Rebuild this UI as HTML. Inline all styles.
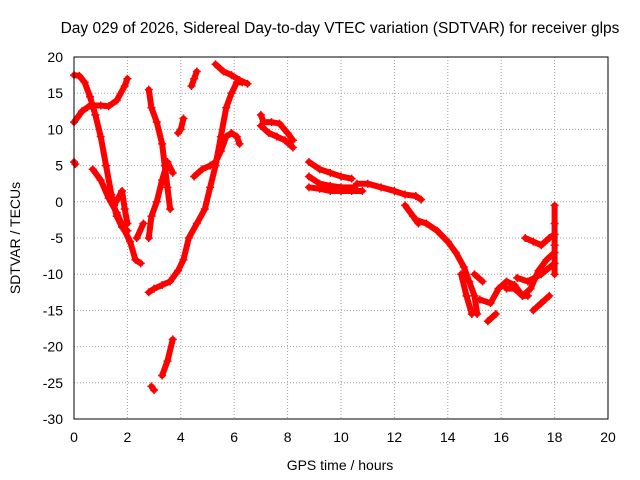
<!DOCTYPE html>
<html><head><meta charset="utf-8"><style>
body{margin:0;background:#fff}
svg{display:block;font-family:"Liberation Sans",sans-serif}
</style></head><body>
<svg id="chart" width="640" height="480">
<rect width="640" height="480" fill="#fff"/>
<text x="340" y="33" font-size="15.5" text-anchor="middle">Day 029 of 2026, Sidereal Day-to-day VTEC variation (SDTVAR) for receiver glps</text>
<text x="340" y="470" font-size="14" text-anchor="middle">GPS time / hours</text>
<text transform="translate(20,238) rotate(-90)" font-size="14" text-anchor="middle">SDTVAR / TECUs</text>
<g id="grid"></g><g id="marks"></g>
<rect x="74" y="57" width="534" height="362" fill="none" stroke="#000" stroke-width="1"/>
</svg>
<script>
const xTicks=[0,2,4,6,8,10,12,14,16,18,20];
const yTicks=[20,15,10,5,0,-5,-10,-15,-20,-25,-30];
const s1=[[0,17.5],[0.2,17.4],[0.4,16.5],[0.6,14.5],[0.8,12],[1.0,9],[1.2,5],[1.4,1],[1.6,-2],[1.8,-3.5],[2.0,-4]];
const s2=[[0,11],[0.3,12.5],[0.6,13.3],[1.0,13.3],[1.3,13.2],[1.6,14],[1.9,16],[2.0,17]];
const s3=[[0,5.5],[0.05,5.2]];
const s4=[[0.7,4.5],[1.0,3],[1.3,0.5],[1.6,-1.5],[1.9,-4],[2.1,-5.5],[2.3,-8],[2.5,-8.5]];
const s5=[[1.5,-0.5],[1.8,1.5],[1.9,-1],[2.0,-3]];
const s6=[[2.35,-5],[2.6,-3]];
const s7=[[2.8,-12.5],[3.0,-12],[3.3,-11.5],[3.6,-11],[3.9,-9.5],[4.1,-8],[4.3,-5],[4.6,-3],[4.9,-1],[5.1,2],[5.3,5],[5.5,9],[5.7,13],[5.9,15],[6.1,16.5],[6.3,16.5]];
const s8=[[2.8,-5],[2.9,-2],[3.1,0],[3.3,3],[3.5,5.5],[3.7,4]];
const s9=[[2.8,15.5],[2.9,13],[3.1,11],[3.3,8],[3.4,5],[3.5,2],[3.6,-1]];
const s10=[[2.9,-25.5],[3.0,-26]];
const s11=[[3.3,-24],[3.5,-22],[3.7,-19]];
const s12=[[3.9,9.5],[4.0,10],[4.1,11.5]];
const s13=[[4.4,16],[4.5,17],[4.6,18]];
const s14=[[4.5,3.5],[4.8,4.5],[5.1,5],[5.3,5.5],[5.5,7],[5.7,9],[5.9,9.5],[6.1,9],[6.2,8]];
const s15=[[5.3,19],[5.6,18],[5.9,17.5],[6.2,16.8],[6.5,16.3]];
const s16=[[7.0,12],[7.1,11],[7.4,11],[7.7,10.8],[8.0,9.5],[8.2,8.5]];
const s17=[[7.0,10.5],[7.3,9.5],[7.6,9],[7.9,8.5],[8.2,7.5]];
const s18=[[8.8,5.5],[9.2,4.5],[9.6,4],[10.0,3.5],[10.4,3.2]];
const s19=[[8.8,3.5],[9.2,2.5],[9.6,2.2],[10.0,2],[10.5,2]];
const s20=[[8.8,2],[9.2,1.8],[9.6,1.5],[10.0,1.5],[10.4,1.5],[10.8,1.5]];
const s21=[[10.6,2.5],[11.0,2.5],[11.5,2],[12.0,1.5],[12.4,1],[12.8,0.8],[13.0,0.3]];
const s22=[[12.4,-0.5],[12.7,-2],[12.9,-3]];
const s23=[[12.8,-2.5],[13.2,-3],[13.6,-4],[14.0,-5.5],[14.3,-7],[14.6,-9],[14.8,-11],[15.0,-13],[15.1,-15.5]];
const s24=[[14.5,-10],[14.7,-13],[14.9,-15.5]];
const s25=[[15.0,-10],[15.3,-11]];
const s26=[[15.5,-16.5],[15.8,-15.5]];
const s27=[[15.2,-13.5],[15.6,-14],[15.9,-12],[16.2,-11],[16.5,-11.5],[16.8,-13],[17.0,-13]];
const s28=[[16.2,-12],[16.5,-12],[16.8,-13],[17.1,-12],[17.4,-9.5],[17.7,-8],[18.0,-7]];
const s29=[[16.9,-5],[17.2,-5.5],[17.5,-6],[17.8,-5],[18.0,-4.5]];
const s30=[[17.2,-15],[17.5,-14],[17.8,-13]];
const s31=[[16.6,-10.5],[17.0,-11],[17.5,-10],[18.0,-8.5]];
const s32=[[18.0,-0.5],[18.0,-3],[18.0,-6],[18.0,-10]];
const series=[s1,s2,s3,s4,s5,s6,s7,s8,s9,s10,s11,s12,s13,s14,s15,s16,s17,s18,s19,s20,s21,s22,s23,s24,s25,s26,s27,s28,s29,s30,s31,s32];
const X=v=>74+v*534/20, Y=v=>57+(20-v)*362/50;
const NS="http://www.w3.org/2000/svg";
const grid=document.getElementById('grid'), marks=document.getElementById('marks');
function mk(tag,attrs,parent){const e=document.createElementNS(NS,tag);for(const k in attrs)e.setAttribute(k,attrs[k]);parent.appendChild(e);return e;}
xTicks.forEach(t=>{
  const g=mk('line',{x1:X(t),x2:X(t),y1:57,y2:419,stroke:'#a0a0a0','stroke-dasharray':'1,2'},grid);
  
  
  const l=mk('text',{x:X(t),y:442,'font-size':14,'text-anchor':'middle'},grid);l.textContent=t;
  
  
});
yTicks.forEach(t=>{
  const g=mk('line',{x1:74,x2:608,y1:Y(t),y2:Y(t),stroke:'#a0a0a0','stroke-dasharray':'1,2'},grid);
  
  
  const l=mk('text',{x:63,y:Y(t)+5,'font-size':14,'text-anchor':'end'},grid);l.textContent=t;
  
  
});
series.forEach((s,i)=>{
  const g=mk('g',{},marks);
  
  
  if(s.length>1){mk('polyline',{points:s.map(p=>X(p[0])+','+Y(p[1])).join(' '),fill:'none',stroke:'#f00','stroke-width':6,'stroke-linejoin':'round','stroke-linecap':'round'},g);}
  s.forEach(p=>{
    const x=X(p[0]),y=Y(p[1]);
    const m=mk('path',{d:`M${x-4},${y}H${x+4}M${x},${y-4}V${y+4}`,stroke:'#f00','stroke-width':1.5},g);
    
    
  });
});
</script>
</body></html>
